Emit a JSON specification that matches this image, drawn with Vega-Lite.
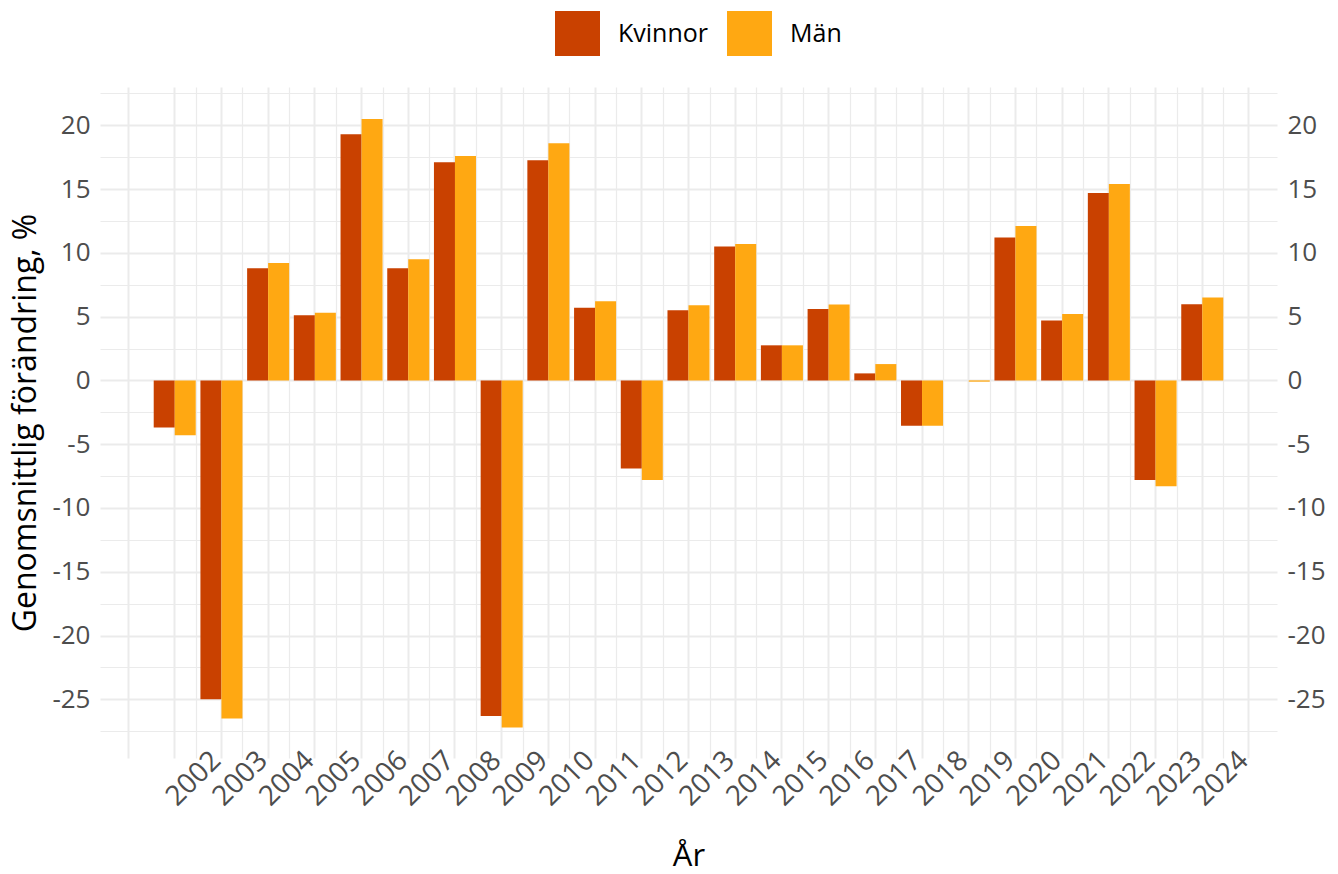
{
  "$schema": "https://vega.github.io/schema/vega-lite/v6.json",
  "autosize": "none",
  "width": 1177,
  "height": 671,
  "padding": {"left": 100, "top": 87, "right": 61, "bottom": 116},
  "background": "white",
  "config": {
    "font": "Open Sans",
    "view": {"stroke": null},
    "axis": {"domain": false, "ticks": false, "labelColor": "#4d4d4d", "labelFontSize": 26, "titleColor": "#000000", "titleFontWeight": "normal", "gridColor": "#ebebeb"}
  },
  "data": {
    "values": [
      {"year": 2002, "sex": "Kvinnor", "value": -3.7}, {"year": 2002, "sex": "Män", "value": -4.3},
      {"year": 2003, "sex": "Kvinnor", "value": -25.0}, {"year": 2003, "sex": "Män", "value": -26.5},
      {"year": 2004, "sex": "Kvinnor", "value": 8.8}, {"year": 2004, "sex": "Män", "value": 9.2},
      {"year": 2005, "sex": "Kvinnor", "value": 5.1}, {"year": 2005, "sex": "Män", "value": 5.3},
      {"year": 2006, "sex": "Kvinnor", "value": 19.3}, {"year": 2006, "sex": "Män", "value": 20.5},
      {"year": 2007, "sex": "Kvinnor", "value": 8.8}, {"year": 2007, "sex": "Män", "value": 9.5},
      {"year": 2008, "sex": "Kvinnor", "value": 17.1}, {"year": 2008, "sex": "Män", "value": 17.6},
      {"year": 2009, "sex": "Kvinnor", "value": -26.3}, {"year": 2009, "sex": "Män", "value": -27.2},
      {"year": 2010, "sex": "Kvinnor", "value": 17.25}, {"year": 2010, "sex": "Män", "value": 18.6},
      {"year": 2011, "sex": "Kvinnor", "value": 5.7}, {"year": 2011, "sex": "Män", "value": 6.2},
      {"year": 2012, "sex": "Kvinnor", "value": -6.9}, {"year": 2012, "sex": "Män", "value": -7.8},
      {"year": 2013, "sex": "Kvinnor", "value": 5.5}, {"year": 2013, "sex": "Män", "value": 5.9},
      {"year": 2014, "sex": "Kvinnor", "value": 10.5}, {"year": 2014, "sex": "Män", "value": 10.7},
      {"year": 2015, "sex": "Kvinnor", "value": 2.75}, {"year": 2015, "sex": "Män", "value": 2.75},
      {"year": 2016, "sex": "Kvinnor", "value": 5.6}, {"year": 2016, "sex": "Män", "value": 5.95},
      {"year": 2017, "sex": "Kvinnor", "value": 0.55}, {"year": 2017, "sex": "Män", "value": 1.28},
      {"year": 2018, "sex": "Kvinnor", "value": -3.55}, {"year": 2018, "sex": "Män", "value": -3.55},
      {"year": 2019, "sex": "Kvinnor", "value": 0.0}, {"year": 2019, "sex": "Män", "value": -0.1},
      {"year": 2020, "sex": "Kvinnor", "value": 11.2}, {"year": 2020, "sex": "Män", "value": 12.1},
      {"year": 2021, "sex": "Kvinnor", "value": 4.7}, {"year": 2021, "sex": "Män", "value": 5.2},
      {"year": 2022, "sex": "Kvinnor", "value": 14.7}, {"year": 2022, "sex": "Män", "value": 15.4},
      {"year": 2023, "sex": "Kvinnor", "value": -7.8}, {"year": 2023, "sex": "Män", "value": -8.3},
      {"year": 2024, "sex": "Kvinnor", "value": 5.96}, {"year": 2024, "sex": "Män", "value": 6.5}
    ]
  },
  "resolve": {"axis": {"x": "independent", "y": "independent"}},
  "layer": [
    {
      "mark": {"type": "bar", "opacity": 0},
      "encoding": {
        "x": {"field": "year", "type": "ordinal",
          "scale": {"domain": [2001,2002,2003,2004,2005,2006,2007,2008,2009,2010,2011,2012,2013,2014,2015,2016,2017,2018,2019,2020,2021,2022,2023,2024,2025], "paddingInner": 0.1, "paddingOuter": 0.15},
          "axis": {"orient": "top", "title": null, "labels": false, "grid": true, "gridWidth": 1.2, "tickBand": "extent",
            "gridOpacity": {"condition": {"test": "datum.index <= 0.001 || datum.index >= 0.999", "value": 0}, "value": 1}}},
        "y": {"field": "value", "type": "quantitative",
          "scale": {"domain": [-29.6, 23.0], "nice": false, "zero": false},
          "axis": null}
      }
    },
    {
      "mark": {"type": "bar"},
      "encoding": {
        "x": {"field": "year", "type": "ordinal",
          "axis": {"orient": "bottom", "title": "År", "titleFontSize": 31, "titleY": 107, "titleBaseline": "alphabetic", "labelFontSize": 28, "labelAngle": -45, "labelAlign": "right", "labelBaseline": "top", "labelOffset": 32, "labelPadding": -12, "grid": true, "gridWidth": 2,
            "labelExpr": "(datum.value == 2001 || datum.value == 2025) ? '' : datum.label"}},
        "xOffset": {"field": "sex", "type": "nominal", "sort": ["Kvinnor", "Män"]},
        "y": {"field": "value", "type": "quantitative",
          "axis": {"orient": "left", "title": "Genomsnittlig förändring, %", "titleFontSize": 32, "titlePadding": 9, "labelPadding": 10, "grid": true,
            "values": [-27.5,-25,-22.5,-20,-17.5,-15,-12.5,-10,-7.5,-5,-2.5,0,2.5,5,7.5,10,12.5,15,17.5,20,22.5],
            "labelExpr": "abs(datum.value % 5) < 0.01 ? '' + datum.value : ''",
            "gridWidth": {"condition": {"test": "abs(datum.value % 5) < 0.01", "value": 2}, "value": 1.2}}},
        "color": {"field": "sex", "type": "nominal",
          "scale": {"domain": ["Kvinnor", "Män"], "range": ["#C94100", "#FFA812"]},
          "legend": {"title": null, "orient": "none", "direction": "horizontal", "legendX": 455, "legendY": -76, "symbolType": "square", "symbolSize": 2025, "symbolStrokeWidth": 0, "symbolOpacity": 1, "labelFontSize": 25, "labelColor": "#000000", "labelOffset": 18, "columnPadding": 18, "padding": 0}}
      }
    },
    {
      "mark": {"type": "bar", "opacity": 0},
      "encoding": {
        "x": {"field": "year", "type": "ordinal", "axis": null},
        "xOffset": {"field": "sex", "type": "nominal", "sort": ["Kvinnor", "Män"]},
        "y": {"field": "value", "type": "quantitative",
          "axis": {"orient": "right", "title": null, "grid": false, "labelPadding": 10,
            "values": [-25,-20,-15,-10,-5,0,5,10,15,20],
            "labelExpr": "'' + datum.value"}}
      }
    }
  ]
}
